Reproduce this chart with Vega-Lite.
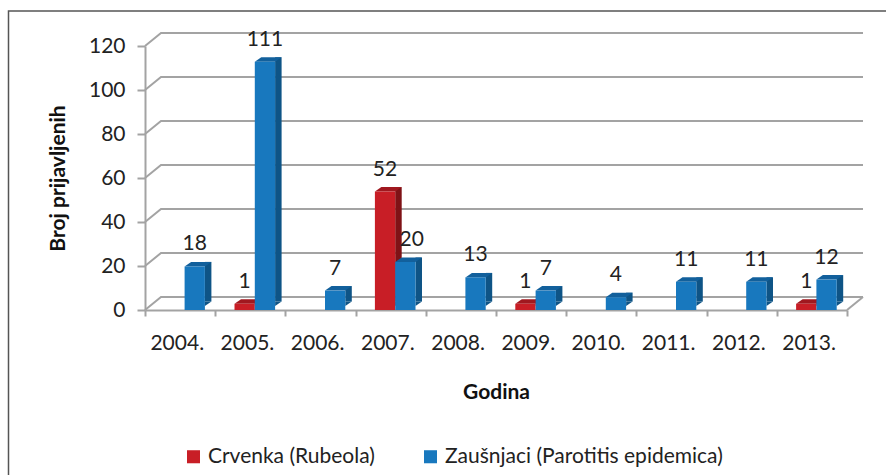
{
"$schema":"https://vega.github.io/schema/vega-lite/v6.json",
"width":702,"height":264,
"padding":{"left":145,"top":46,"right":39,"bottom":165},
"autosize":{"type":"none"},
"background":"white",
"config":{"view":{"stroke":null},"font":"Lato"},
"datasets":{
"bars":[
{"year":"2004.","series":"Zaušnjaci (Parotitis epidemica)","n":18},
{"year":"2005.","series":"Crvenka (Rubeola)","n":1},
{"year":"2005.","series":"Zaušnjaci (Parotitis epidemica)","n":111},
{"year":"2006.","series":"Zaušnjaci (Parotitis epidemica)","n":7},
{"year":"2007.","series":"Crvenka (Rubeola)","n":52},
{"year":"2007.","series":"Zaušnjaci (Parotitis epidemica)","n":20},
{"year":"2008.","series":"Zaušnjaci (Parotitis epidemica)","n":13},
{"year":"2009.","series":"Crvenka (Rubeola)","n":1},
{"year":"2009.","series":"Zaušnjaci (Parotitis epidemica)","n":7},
{"year":"2010.","series":"Zaušnjaci (Parotitis epidemica)","n":4},
{"year":"2011.","series":"Zaušnjaci (Parotitis epidemica)","n":11},
{"year":"2012.","series":"Zaušnjaci (Parotitis epidemica)","n":11},
{"year":"2013.","series":"Crvenka (Rubeola)","n":1},
{"year":"2013.","series":"Zaušnjaci (Parotitis epidemica)","n":12}
],
"ticks":[{"t":0},{"t":20},{"t":40},{"t":60},{"t":80},{"t":100},{"t":120}]
},
"layer":[
{"data":{"name":"ticks"},
 "mark":{"type":"point","filled":false,"opacity":1,"size":4,"stroke":"#A3A3A3","strokeWidth":2,"shape":"M-35.1 0 L-19.1 -13 L682.9 -13"},
 "encoding":{"x":{"datum":"2004.","type":"nominal"},
  "y":{"field":"t","type":"quantitative","scale":{"domain":[0,120],"nice":false},
   "axis":{"title":"Broj prijavljenih","titleFontSize":21,"titleFontWeight":"bold","titleColor":"#111","titlePadding":20,
     "values":[0,20,40,60,80,100,120],"labelFontSize":21,"labelColor":"#222","labelPadding":12,"tickSize":8,"tickWidth":2,"tickColor":"#A3A3A3","domainColor":"#A3A3A3","domainWidth":2,"grid":false}}}},
{"data":{"values":[{"year":"2013.","t":0}]},
 "mark":{"type":"point","filled":false,"opacity":1,"size":4,"stroke":"#A3A3A3","strokeWidth":2,"shape":"M35.1 0 L51.1 -13"},
 "encoding":{"x":{"field":"year","type":"nominal"},"y":{"field":"t","type":"quantitative"}}},
{"data":{"name":"bars"},
 "mark":{"type":"rule","strokeWidth":6.5,"xOffset":{"expr":"datum.series==='Crvenka (Rubeola)'?7.75:28.05"},"yOffset":-8.5,"y2Offset":-8.5},
 "encoding":{
  "x":{"field":"year","type":"nominal"},
  "y":{"field":"n","type":"quantitative"},"y2":{"datum":0},
  "color":{"condition":{"test":"datum.series==='Crvenka (Rubeola)'","value":"#7F1216"},"value":"#0E5486"}}},
{"data":{"name":"bars"},
 "mark":{"type":"point","filled":true,"opacity":1,"size":4,"strokeWidth":0,"yOffset":-4,"xOffset":{"expr":"datum.series==='Crvenka (Rubeola)'?-5.65:14.65"},"shape":"M10.15 0 L16.65 -4.5 L10.15 -4.5 Z"},
 "encoding":{
  "x":{"field":"year","type":"nominal"},
  "y":{"datum":0,"type":"quantitative"},
  "fill":{"condition":{"test":"datum.series==='Crvenka (Rubeola)'","value":"#7F1216"},"value":"#0E5486"}}},
{"data":{"name":"bars"},
 "mark":{"type":"point","filled":true,"opacity":1,"size":4,"strokeWidth":0,"yOffset":-4,"xOffset":{"expr":"datum.series==='Crvenka (Rubeola)'?-5.65:14.65"},"shape":"M-10.15 0 L10.15 0 L16.65 -4.5 L-3.65 -4.5 Z"},
 "encoding":{
  "x":{"field":"year","type":"nominal"},
  "y":{"field":"n","type":"quantitative"},
  "fill":{"condition":{"test":"datum.series==='Crvenka (Rubeola)'","value":"#A0181F"},"value":"#12609C"}}},
{"data":{"name":"bars"},
 "mark":{"type":"bar","width":20.3,"xOffset":{"expr":"datum.series==='Crvenka (Rubeola)'?-5.65:14.65"},"yOffset":-4,"y2Offset":-4},
 "encoding":{
  "x":{"field":"year","type":"nominal","sort":null,
   "scale":{"paddingInner":0,"paddingOuter":0},
   "axis":{"title":"Godina","titleFontSize":21,"titleFontWeight":"bold","titleColor":"#111","titlePadding":28,
     "labelAngle":0,"labelFontSize":21,"labelColor":"#222","labelPadding":27,"labelOffset":23.5,"tickBand":"extent","tickSize":6,"tickWidth":2,"tickColor":"#A3A3A3","domainColor":"#A3A3A3","domainWidth":2,"grid":false}},
  "y":{"field":"n","type":"quantitative","stack":null},
  "color":{"field":"series","type":"nominal",
   "scale":{"domain":["Crvenka (Rubeola)","Zaušnjaci (Parotitis epidemica)"],"range":["#C81E26","#1878BE"]},
   "legend":{"title":null,"orient":"none","legendX":38,"legendY":400,"direction":"horizontal","symbolType":"square","symbolSize":170,"symbolStrokeWidth":0,"labelFontSize":21,"labelColor":"#222","labelLimit":500,"columnPadding":45}}}},
{"data":{"name":"bars"},
 "mark":{"type":"text","fontSize":21,"color":"#222","xOffset":{"expr":"datum.series==='Crvenka (Rubeola)'?-5.65:(datum.year==='2007.'?21:14.65)"},"yOffset":-26,"baseline":"middle"},
 "encoding":{"x":{"field":"year","type":"nominal"},"y":{"field":"n","type":"quantitative"},"text":{"field":"n","type":"quantitative"}}},
{"data":{"values":[{"frame":"border","t":120}]},
 "mark":{"type":"point","filled":false,"opacity":1,"size":4,"stroke":"#555","strokeWidth":1.5,"shape":"M707 -35 L-171.6 -35 L-171.6 430"},
 "encoding":{"x":{"datum":"2004.","type":"nominal"},"y":{"field":"t","type":"quantitative"}}}
]
}
